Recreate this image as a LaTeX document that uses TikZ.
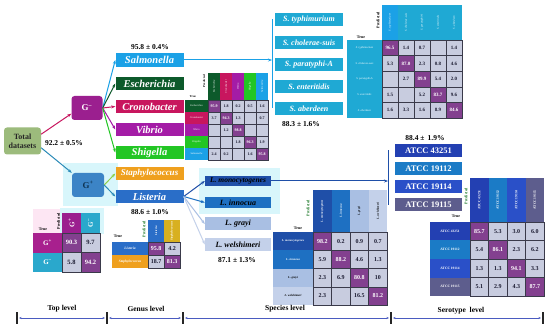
\documentclass[tikz,border=0pt]{standalone}
\usepackage{fontspec}
\setmainfont{Liberation Serif}
\usetikzlibrary{arrows.meta}
\definecolor{cTot}{HTML}{9CBB7C}
\definecolor{cGn}{HTML}{9B1F8F}
\definecolor{cGp}{HTML}{3C84C6}
\definecolor{cGpT}{HTML}{0E3352}
\definecolor{cGh}{HTML}{2AA8CC}
\definecolor{cGr}{HTML}{A8208E}
\definecolor{cSal}{HTML}{1BA1E6}
\definecolor{cEsc}{HTML}{0D5A2B}
\definecolor{cCro}{HTML}{C8165E}
\definecolor{cVib}{HTML}{A41CA6}
\definecolor{cShi}{HTML}{22C624}
\definecolor{cSta}{HTML}{EFA01E}
\definecolor{cStaH}{HTML}{D8B020}
\definecolor{cLis}{HTML}{2A6EC8}
\definecolor{cSer}{HTML}{1FA9D4}
\definecolor{cMon}{HTML}{1F4FA8}
\definecolor{cInn}{HTML}{1E70C2}
\definecolor{cGra}{HTML}{A9BFE3}
\definecolor{cWel}{HTML}{C4D1EA}
\definecolor{cA1}{HTML}{2340B2}
\definecolor{cA2}{HTML}{1B7BC6}
\definecolor{cA3}{HTML}{2A50C8}
\definecolor{cA4}{HTML}{5D5D8D}
\definecolor{cDiag}{HTML}{83408F}
\definecolor{cOff}{HTML}{C8CCDF}
\definecolor{cNum}{HTML}{1A1A30}
\definecolor{cLine}{HTML}{3A3A4A}
\definecolor{cAxis}{HTML}{4A5BC0}
\definecolor{cGlow}{HTML}{D8F6FB}
\definecolor{cPink}{HTML}{FDE6F3}
\definecolor{cPred}{HTML}{1E7A2A}
\definecolor{cStaL}{HTML}{8ED04A}
\definecolor{cLisL}{HTML}{2A8AB8}

\newcommand{\cmx}[7]{%
 \foreach \rw [count=\ri] in {#7}{%
  \foreach \cv [count=\ci] in \rw {%
   \ifnum\ri=\ci\relax\def\fc{cDiag}\def\tc{white}\else\def\fc{cOff}\def\tc{cNum}\fi
   \node[cellb, minimum width=#4pt, minimum height=#5pt, fill=\fc, text=\tc,
     font=\fontsize{#6}{#6}\selectfont\bfseries] (#1-\ri-\ci)
     at ({#2+(\ci-0.5)*#4},{#3+(\ri-0.5)*#5}) {\cv};
 }}}

\begin{document}
\begin{tikzpicture}[x=1pt,y=-1pt,
 gbox/.style={rectangle, inner sep=0pt, minimum width=68pt, minimum height=13.5pt, text=white, font=\fontsize{10.5}{11}\selectfont\bfseries\itshape},
 sbox/.style={rectangle, inner sep=0pt, minimum width=68pt, minimum height=13pt, text=white, font=\fontsize{8}{9}\selectfont\bfseries\itshape},
 lbox/.style={rectangle, inner sep=0pt, minimum width=66pt, minimum height=13pt, text=black, font=\fontsize{8}{9}\selectfont\bfseries\itshape},
 abox/.style={rectangle, inner sep=0pt, minimum width=67pt, minimum height=13pt, text=white, font=\fontsize{8.5}{9}\selectfont\bfseries},
 pct/.style={inner sep=0pt, font=\fontsize{7.5}{8}\selectfont\bfseries},
 arr/.style={-{Stealth[length=4pt,width=3pt]}, line width=1pt},
 cellb/.style={draw=cLine, line width=0.35pt, inner sep=0pt},
 hdr/.style={rectangle, inner sep=0pt, text=white},
 tlab/.style={inner sep=0pt, font=\fontsize{4}{4}\selectfont\bfseries},
 axl/.style={inner sep=0pt, font=\fontsize{7.5}{8}\selectfont\bfseries},
 axarr/.style={{Stealth[length=2.5pt,width=2pt]}-{Stealth[length=2.5pt,width=2pt]}, line width=0.7pt, draw=cAxis},
 tickl/.style={line width=1.1pt, draw=black!85},
]
\fill[white] (0,0) rectangle (550,329);
\useasboundingbox (0,0) rectangle (550,329);

% glows
\fill[cGlow] (63,163) rectangle (118,206);
\fill[cPink] (33,209) rectangle (62,234);
\fill[cGlow] (60,208) rectangle (104,234);
\fill[cGlow] (199,168) rectangle (280,214);

% ---------- top level ----------
\node[rectangle, rounded corners=3pt, fill=cTot, text=black!85, minimum width=37pt, minimum height=27pt, inner sep=0pt, align=center, font=\fontsize{8}{9}\selectfont\bfseries] (tot) at (22.5,141) {Total\\datasets};
\node[pct] (p922) at (64,143) {92.2 ± 0.5\%};
\node[rectangle, rounded corners=3pt, fill=cGn, text=white, minimum width=31pt, minimum height=24pt, inner sep=0pt, font=\fontsize{9}{9}\selectfont\bfseries] (gn) at (87,108) {G\textsuperscript{--}};
\node[rectangle, rounded corners=3pt, fill=cGp, text=cGpT, minimum width=32pt, minimum height=24pt, inner sep=0pt, font=\fontsize{9}{9}\selectfont\bfseries] (gp) at (88,185) {G\textsuperscript{+}};
\draw[arr, draw=cCro] (tot.20) -- (gn.200);
\draw[arr, draw=cLisL] (tot.-20) -- (gp.north west);

% ---------- genus ----------
\node[pct] (p958) at (150,47) {95.8 ± 0.4\%};
\node[gbox, fill=cSal] (sal) at (149.5,60) {Salmonella};
\node[gbox, fill=cEsc] (esc) at (149.5,83.5) {Escherichia};
\node[gbox, fill=cCro] (cro) at (149.5,106.5) {Cronobacter};
\node[gbox, fill=cVib] (vib) at (149.5,129.5) {Vibrio};
\node[gbox, fill=cShi] (shi) at (149.5,152.5) {Shigella};
\node[gbox, fill=cSta, font=\fontsize{9}{10}\selectfont\bfseries\itshape] (sta) at (149.5,173.5) {Staphylococcus};
\node[gbox, fill=cLis] (lis) at (149.5,196.5) {Listeria};
\node[pct] (p886) at (150,212) {88.6 ± 1.0\%};
\draw[arr, draw=cSal] (gn.east) -- (sal.west);
\draw[arr, draw=cEsc] (gn.east) -- (esc.west);
\draw[arr, draw=cCro] (gn.east) -- (cro.west);
\draw[arr, draw=cVib] (gn.east) -- (vib.west);
\draw[arr, draw=cShi] (gn.east) -- (shi.west);
\draw[arr, draw=cStaL] (gp.east) -- (sta.west);
\draw[arr, draw=cLisL] (gp.east) -- (lis.west);

% ---------- Salmonella serotypes ----------
\node[sbox, fill=cSer] (s1) at (309,19.5) {S. typhimurium};
\node[sbox, fill=cSer] (s2) at (309,42.5) {S. cholerae-suis};
\node[sbox, fill=cSer] (s3) at (309,64.5) {S. paratyphi-A};
\node[sbox, fill=cSer] (s4) at (309,86.5) {S. enteritidis};
\node[sbox, fill=cSer] (s5) at (309,108.5) {S. aberdeen};
\node[pct] (p883) at (301,124) {88.3 ± 1.6\%};
\coordinate (sbr) at (272,60);
\draw[arr, draw=cSal] (sal.east) -- (sbr);
\draw[line width=1pt, draw=cSal] (sbr |- s1.center) -- (sbr |- s5.center);

% ---------- Listeria species ----------
\node[lbox, fill=cMon, minimum height=10pt, font=\fontsize{7.5}{8}\selectfont\bfseries\itshape] (mon) at (238,181) {L. monocytogenes};
\node[lbox, fill=cInn, minimum height=11pt] (inn) at (238,202.5) {L. innocua};
\node[lbox, fill=cGra] (gra) at (238,224) {L. grayi};
\node[lbox, fill=cWel] (wel) at (238,244.5) {L. welshimeri};
\node[pct] (p871) at (237,260) {87.1 ± 1.3\%};
\draw[arr, draw=cMon] (lis.east) -- (mon.west);
\draw[arr, draw=cInn] (lis.east) -- (inn.west);
\draw[arr, draw=cGra] (lis.east) -- (gra.west);
\draw[arr, draw=cWel] (lis.east) -- (wel.west);

% ---------- serotypes of L. monocytogenes ----------
\node[abox, fill=cA1] (a1) at (428.5,150.5) {ATCC 43251};
\node[abox, fill=cA2] (a2) at (428.5,168.5) {ATCC 19112};
\node[abox, fill=cA3] (a3) at (428.5,186.5) {ATCC 19114};
\node[abox, fill=cA4] (a4) at (428.5,205) {ATCC 19115};
\node[pct] (p884) at (425,138) {88.4 ±\, 1.9\%};
\coordinate (abr) at (388,181);
\draw[arr, draw=cMon] (mon.east) -- (abr);
\draw[line width=1pt, draw=cMon] (abr |- a1.center) -- (abr |- a4.center);

% ---------- top-level matrix ----------
\foreach \t/\f/\g [count=\i] in {+/cGn/cGr, --/cGh/cGh}{
 \node[hdr, fill=\f, minimum width=19pt, minimum height=20pt, font=\fontsize{7}{7}\selectfont\bfseries] (tmh\i) at ({62+(\i-0.5)*19},223) {\rotatebox{90}{G\textsuperscript{\t}}};
 \node[hdr, fill=\g, minimum width=29pt, minimum height=19.5pt, font=\fontsize{7}{7}\selectfont\bfseries] (tmr\i) at (47.5,{233+(\i-0.5)*19.5}) {G\textsuperscript{\t}};
}
\node[tlab] (tmt) at (43,229.5) {True};
\node[tlab, rotate=90] (tmp) at (58.5,221) {Predicted};
\cmx{tm}{62}{233}{19}{19.5}{6.5}{{90.3,9.7},{5.8,94.2}}

% ---------- genus-level matrix (G+) ----------
\foreach \t/\f/\g [count=\i] in {Listeria/cLis/cLis, Staphylococcus/cStaH/cSta}{
 \node[hdr, fill=\f, minimum width=16pt, minimum height=22pt, font=\fontsize{3}{3}\selectfont\bfseries\itshape] (gmh\i) at ({148+(\i-0.5)*16},231) {\rotatebox{90}{\t}};
 \node[hdr, fill=\g, minimum width=36pt, minimum height=13pt, font=\fontsize{3.5}{3.5}\selectfont\bfseries\itshape] (gmr\i) at (130,{242+(\i-0.5)*13}) {\t};
}
\node[tlab] (gmt) at (118,236.5) {True};
\node[tlab, rotate=90, text=cPred] (gmp) at (144,229) {Predicted};
\cmx{gm}{148}{242}{16}{13}{6}{{95.8,4.2},{18.7,81.3}}

% ---------- genus-level matrix (G-) ----------
\foreach \t/\f [count=\i] in {Escherichia/cEsc, Cronobacter/cCro, Vibrio/cVib, Shigella/cShi, Salmonella/cSal}{
 \node[hdr, fill=\f, minimum width=23pt, minimum height=12pt, font=\fontsize{2.6}{3}\selectfont\itshape] (nmr\i) at (196.5,{100+(\i-0.5)*12}) {\t};
 \node[hdr, fill=\f, minimum width=12pt, minimum height=27pt, font=\fontsize{2.6}{3}\selectfont\itshape] (nmh\i) at ({208+(\i-0.5)*12},86.5) {\rotatebox{90}{\t}};
}
\node[tlab, font=\fontsize{3}{3}\selectfont\bfseries] (nmt) at (193,97) {True};
\node[tlab, rotate=90, font=\fontsize{3}{3}\selectfont\bfseries] (nmp) at (204,81) {Predicted};
\cmx{nm}{208}{100}{12}{12}{4}{{95.9,1.8,0.2,0.5,1.6},{3.7,94.3,1.3,{},0.7},{{},1.2,98.8,{},{}},{{},{},1.8,96.3,1.9},{2.4,0.2,{},1.6,95.8}}

% ---------- Salmonella serotype matrix ----------
\foreach \t/\f [count=\i] in {S. typhimurium/cSal, S. cholerae-suis/cSer, S. paratyphi-A/cSer, S. enteritidis/cSer, S. aberdeen/cSer}{
 \node[hdr, fill=\f, minimum width=16pt, minimum height=35pt, font=\fontsize{2.8}{3}\selectfont\itshape] (smh\i) at ({382+(\i-0.5)*16},22.5) {\rotatebox{90}{\t}};
 \node[hdr, fill=cSer, minimum width=35pt, minimum height=15.6pt, font=\fontsize{2.8}{3}\selectfont\itshape] (smr\i) at (364.5,{40+(\i-0.5)*15.6}) {\t};
}
\node[tlab] (smt) at (361,37.5) {True};
\node[tlab, rotate=90] (smp) at (378,20) {Predicted};
\cmx{sm}{382}{40}{16}{15.6}{5}{{96.5,1.4,0.7,{},1.4},{5.3,87.0,2.3,0.8,4.6},{{},2.7,89.9,5.4,2.0},{1.5,{},5.2,83.7,9.6},{1.6,3.3,1.6,8.9,84.6}}

% ---------- species matrix ----------
\foreach \t/\f/\k [count=\i] in {L. monocytogenes/cMon/white, L. innocua/cInn/white, L. grayi/cGra/black, L. welshimeri/cWel/black}{
 \node[hdr, fill=\f, text=\k, minimum width=18.5pt, minimum height=42pt, font=\fontsize{3}{3}\selectfont\bfseries\itshape] (pmh\i) at ({313+(\i-0.5)*18.5},211) {\rotatebox{90}{\t}};
 \node[hdr, fill=\f, text=\k, minimum width=40pt, minimum height=18.25pt, font=\fontsize{3}{3}\selectfont\bfseries\itshape] (pmr\i) at (293,{232+(\i-0.5)*18.25}) {\t};
}
\node[tlab] (pmt) at (298,228.5) {True};
\node[tlab, rotate=90, text=cPred] (pmp) at (308,208) {Predicted};
\cmx{pm}{313}{232}{18.5}{18.25}{6}{{98.2,0.2,0.9,0.7},{5.9,88.2,4.6,1.3},{2.3,6.9,80.8,10},{2.3,{},16.5,81.2}}

% ---------- serotype matrix ----------
\foreach \t/\f [count=\i] in {ATCC 43251/cA1, ATCC 19112/cA2, ATCC 19114/cA3, ATCC 19115/cA4}{
 \node[hdr, fill=\f, minimum width=18.5pt, minimum height=44pt, font=\fontsize{3.5}{3.5}\selectfont\bfseries] (omh\i) at ({470+(\i-0.5)*18.5},200) {\rotatebox{90}{\t}};
 \node[hdr, fill=\f, minimum width=40pt, minimum height=18.5pt, font=\fontsize{3.5}{3.5}\selectfont\bfseries] (omr\i) at (450,{222+(\i-0.5)*18.5}) {\t};
}
\node[tlab] (omt) at (456,216.5) {True};
\node[tlab, rotate=90, text=cPred] (omp) at (466,196) {Predicted};
\cmx{om}{470}{222}{18.5}{18.5}{6}{{85.7,5.3,3.0,6.0},{5.4,86.1,2.3,6.2},{1.3,1.3,94.1,3.3},{5.1,2.9,4.3,87.7}}

% ---------- axis ----------
\coordinate (t1) at (17,318);
\coordinate (t2) at (107,318);
\coordinate (t3) at (183,318);
\coordinate (t4) at (391,318);
\coordinate (t5) at (543,318);
\foreach \p in {t1,t2,t3,t4,t5}{\draw[tickl] (\p) ++(0,-6) -- ++(0,12);}
\draw[axarr] ([xshift=2pt]t1) -- ([xshift=-2pt]t2);
\draw[axarr] ([xshift=2pt]t2) -- ([xshift=-2pt]t3);
\draw[axarr] ([xshift=2pt]t3) -- ([xshift=-2pt]t4);
\draw[axarr] ([xshift=2pt]t4) -- ([xshift=-2pt]t5);
\node[axl] (l1) at (62,309) {Top level};
\node[axl] (l2) at (146,309) {Genus level};
\node[axl] (l3) at (285,309) {Species level};
\node[axl] (l4) at (461,311) {Serotype\ \ level};
\end{tikzpicture}
\end{document}
